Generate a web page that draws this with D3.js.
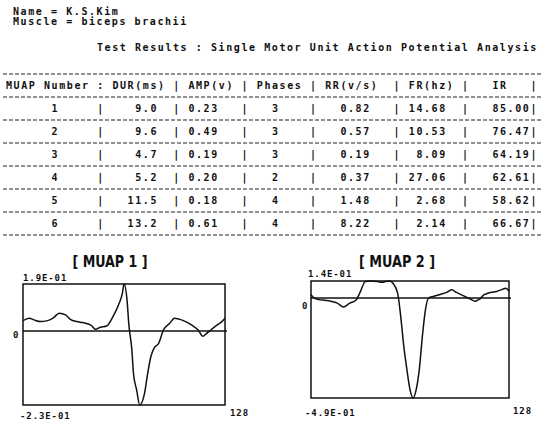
<!DOCTYPE html>
<html>
<head>
<meta charset="utf-8">
<script src="https://cdn.jsdelivr.net/npm/d3@7"></script>
<style>
    body { margin: 0; background: #fff; }
    svg { display: block; }
    .mono { font-family: "DejaVu Sans Mono", monospace; font-weight: bold; font-size: 10px; letter-spacing: 1.58px; fill: #111; }
    .lab  { font-family: "DejaVu Sans Mono", monospace; font-weight: bold; font-size: 9px; letter-spacing: 0.9px; fill: #111; }
    .ttl  { font-family: "Liberation Sans Narrow", "DejaVu Sans Condensed", sans-serif; font-weight: bold; font-size: 15px; fill: #111; }
</style>
</head>
<body>
<svg id="chart" width="543" height="422"></svg>
<script>

// ---- data ----
const subject = ["Name = K.S.Kim", "Muscle = biceps brachii"];
const reportTitle = "Test Results : Single Motor Unit Action Potential Analysis";

const headers = ["MUAP Number", "DUR(ms)", "AMP(v)", "Phases", "RR(v/s)", "FR(hz)", "IR"];
const muapNo = [1, 2, 3, 4, 5, 6];
const dur    = [9.0, 9.6, 4.7, 5.2, 11.5, 13.2];
const amp    = [0.23, 0.49, 0.19, 0.20, 0.18, 0.61];
const phases = [3, 3, 3, 2, 4, 4];
const rr     = [0.82, 0.57, 0.19, 0.37, 1.48, 8.22];
const fr     = [14.68, 10.53, 8.09, 27.06, 2.68, 2.14];
const ir     = [85.00, 76.47, 64.19, 62.61, 58.62, 66.67];

// waveform samples (sample index 0..128, amplitude in volts)
const muap1Idx = [0, 4, 7, 11, 15, 19, 23, 27, 30, 34, 38, 43, 46, 49, 53, 57, 61, 63, 64, 66, 67, 69, 70, 72, 74, 77, 79, 81, 83, 86, 89, 93, 96, 99, 103, 107, 111, 114, 116, 119, 122, 126, 128];
const muap1Amp = [0.042, 0.052, 0.045, 0.038, 0.041, 0.052, 0.072, 0.065, 0.047, 0.038, 0.034, 0.024, 0.007, 0.015, 0.020, 0.058, 0.113, 0.153, 0.190, 0.120, 0.031, -0.060, -0.132, -0.183, -0.230, -0.194, -0.132, -0.080, -0.054, -0.038, 0.004, 0.031, 0.052, 0.048, 0.038, 0.024, 0.004, -0.016, -0.009, 0.004, 0.020, 0.038, 0.052];

const muap2Idx = [0, 2, 5, 9, 13, 17, 21, 25, 29, 32, 35, 38, 43, 46, 48, 51, 53, 56, 58, 60, 62, 64, 66, 68, 70, 72, 74, 76, 79, 83, 88, 91, 94, 98, 103, 106, 109, 112, 116, 120, 124, 126, 128];
const muap2Amp = [0.027, 0.000, -0.008, -0.011, -0.016, -0.025, -0.044, -0.025, -0.011, 0.054, 0.135, 0.140, 0.135, 0.129, 0.135, 0.140, 0.121, 0.040, -0.090, -0.237, -0.351, -0.449, -0.490, -0.449, -0.351, -0.188, -0.057, 0.000, 0.013, 0.027, 0.048, 0.067, 0.046, 0.022, -0.005, -0.016, -0.005, 0.027, 0.046, 0.054, 0.073, 0.081, 0.054];

const panelTitles = ["[ MUAP 1 ]", "[ MUAP 2 ]"];
const panelMax = [0.19, 0.14];
const panelMin = [-0.23, -0.49];
const topLabels = ["1.9E-01", "1.4E-01"];
const botLabels = ["-2.3E-01", "-4.9E-01"];
const sampleCount = 128;


const svg = d3.select("#chart");

// ---- header lines ----
svg.append("text").attr("class", "mono").attr("x", 13).attr("y", 11)
    .attr("dominant-baseline", "central").text(subject[0]);
svg.append("text").attr("class", "mono").attr("x", 13).attr("y", 21.5)
    .attr("dominant-baseline", "central").text(subject[1]);
svg.append("text").attr("class", "mono").attr("x", 97).attr("y", 47)
    .attr("dominant-baseline", "central").text(reportTitle);

// ---- table (character grid like the printer) ----
const x0 = 6, cw = 7.6;
const col = i => x0 + i * cw;

const headStart = [0, 14, 24, 33, 42, 53, 64];   // char column where each header starts
const sepCols   = [12, 22, 31, 40, 51, 60, 69];  // char column of separators
const valEnd    = [6, 19, 27, 35, 47, 57, 68];   // char column where each value ends

const rowY0 = 85.5, rowStep = 23;
const rowY = i => rowY0 + i * rowStep;

// dashed rules
const ruleYs = d3.range(muapNo.length + 2).map(i => rowY(i) - rowStep / 2);
svg.selectAll(".rule").data(ruleYs).enter().append("line")
    .attr("class", "rule")
    .attr("x1", 3).attr("x2", 541)
    .attr("y1", d => d).attr("y2", d => d)
    .attr("stroke", "#222").attr("stroke-width", 1)
    .attr("stroke-dasharray", "4,2");

// header row
svg.selectAll(".head").data(headers).enter().append("text")
    .attr("class", "mono head")
    .attr("x", (d, i) => col(headStart[i]))
    .attr("y", rowY(0))
    .attr("dominant-baseline", "central")
    .text(d => d);

function cellRow(sepChars, y) {
    svg.append("g").selectAll("text").data(sepChars).enter().append("text")
        .attr("class", "mono")
        .attr("x", (d, i) => col(sepCols[i]))
        .attr("y", y)
        .attr("dominant-baseline", "central")
        .text(d => d);
}
cellRow([":", "|", "|", "|", "|", "|", "|"], rowY(0));

// value rows
const rows = muapNo.map((n, i) => [
    String(n), dur[i].toFixed(1), amp[i].toFixed(2), String(phases[i]),
    rr[i].toFixed(2), fr[i].toFixed(2), ir[i].toFixed(2)
]);

rows.forEach((cells, r) => {
    const y = rowY(r + 1);
    svg.append("g").selectAll("text").data(cells).enter().append("text")
        .attr("class", "mono")
        .attr("x", (d, i) => col(valEnd[i] - d.length + 1))
        .attr("y", y)
        .attr("dominant-baseline", "central")
        .text(d => d);
    cellRow(["|", "|", "|", "|", "|", "|", "|"], y);
});


// ---- waveform panels ----
const panels = [
    { box: { left: 23, right: 225, top: 284, zero: 331, bottom: 405 },
      idx: muap1Idx, amp: muap1Amp,
      titleX: 110, titleY: 262, titleW: 75,
      topLab: [23, 278], zeroLab: [13, 335], botLab: [20, 415.5], endLab: [230, 413] },
    { box: { left: 311, right: 509, top: 281, zero: 298, bottom: 398 },
      idx: muap2Idx, amp: muap2Amp,
      titleX: 397, titleY: 262, titleW: 76,
      topLab: [308, 274], zeroLab: [302, 306], botLab: [305, 412.5], endLab: [513, 410.5] }
];

panels.forEach((p, k) => {
    const b = p.box;
    const g = svg.append("g");

    const xScale = d3.scaleLinear().domain([0, sampleCount]).range([b.left, b.right]);
    // the plotter's vertical scale is not symmetric about zero, so use a two-piece scale
    const yScale = d3.scaleLinear().domain([panelMin[k], 0, panelMax[k]]).range([b.bottom, b.zero, b.top]);

    g.append("text").attr("class", "ttl")
        .attr("x", p.titleX).attr("y", p.titleY)
        .attr("text-anchor", "middle").attr("dominant-baseline", "central")
        .attr("textLength", p.titleW).attr("lengthAdjust", "spacingAndGlyphs")
        .text(panelTitles[k]);

    g.append("rect")
        .attr("x", xScale(0)).attr("y", yScale(panelMax[k]))
        .attr("width", xScale(sampleCount) - xScale(0))
        .attr("height", yScale(panelMin[k]) - yScale(panelMax[k]))
        .attr("fill", "none").attr("stroke", "#111").attr("stroke-width", 1.5);

    g.append("line")
        .attr("x1", xScale(0)).attr("x2", xScale(sampleCount) + 2)
        .attr("y1", yScale(0)).attr("y2", yScale(0))
        .attr("stroke", "#111").attr("stroke-width", 1.3);

    const pts = p.idx.map((d, i) => ({ s: d, v: p.amp[i] }));
    const line = d3.line()
        .x(d => xScale(d.s))
        .y(d => yScale(d.v))
        .curve(d3.curveMonotoneX);

    g.append("path").datum(pts)
        .attr("d", line)
        .attr("fill", "none").attr("stroke", "#111").attr("stroke-width", 1.5);

    const lab = (pos, txt) => g.append("text").attr("class", "lab")
        .attr("x", pos[0]).attr("y", pos[1])
        .attr("dominant-baseline", "central").text(txt);
    lab(p.topLab, topLabels[k]);
    lab(p.zeroLab, "0");
    lab(p.botLab, botLabels[k]);
    lab(p.endLab, String(sampleCount));
});

</script>
</body>
</html>
